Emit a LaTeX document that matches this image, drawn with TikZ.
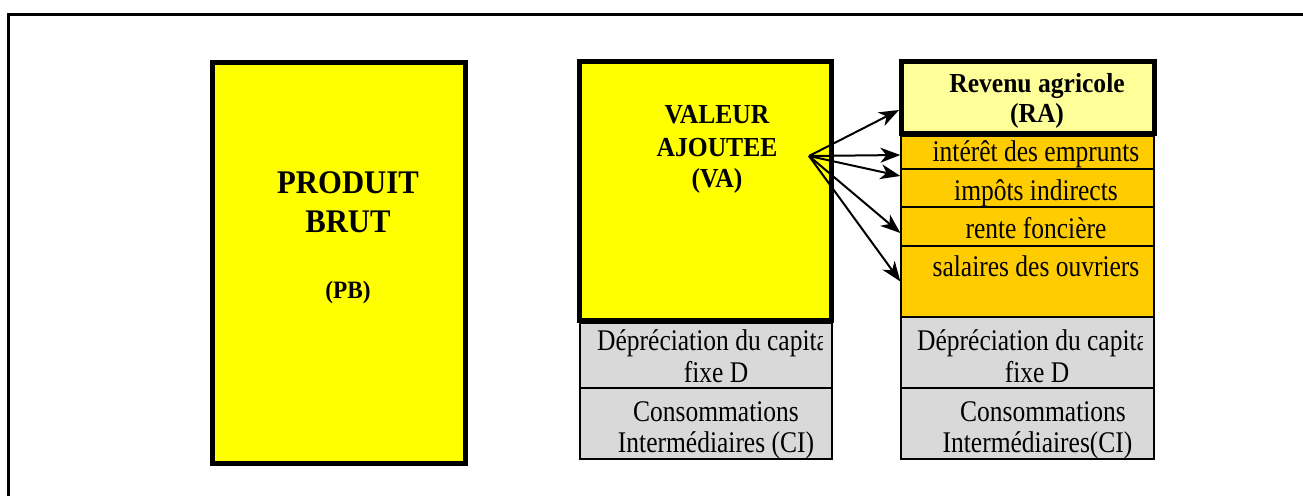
\documentclass[tikz,border=0pt]{standalone}
\usepackage{fontspec}
\setmainfont{Liberation Serif}[FakeStretch=0.85,BoldFeatures={FakeStretch=0.93}]
\usetikzlibrary{arrows.meta}
\definecolor{yel}{HTML}{FFFF00}
\definecolor{lyel}{HTML}{FFFF99}
\definecolor{orng}{HTML}{FFCC00}
\definecolor{gry}{HTML}{D9D9D9}
\begin{document}
\begin{tikzpicture}[x=1pt,y=-1pt,
  thickbox/.style={draw=black,line width=5pt,inner sep=0pt,rectangle},
  thinbox/.style={draw=black,line width=1.3pt,inner sep=0pt,rectangle},
  txt/.style={anchor=base,inner sep=0pt,font=\fontsize{30}{31}\selectfont},
  txtw/.style={anchor=base west,inner sep=0pt,font=\fontsize{30}{31}\selectfont},
  bigb/.style={anchor=base,inner sep=0pt,font=\fontsize{33}{36}\selectfont\bfseries},
  midb/.style={anchor=base,inner sep=0pt,font=\fontsize{27.5}{30}\selectfont\bfseries},
  smlb/.style={anchor=base,inner sep=0pt,font=\fontsize{25}{28}\selectfont\bfseries},
  arr/.style={line width=2pt,-{Stealth[length=20pt,width=15pt,inset=6pt]}}
]
\useasboundingbox (0,0) rectangle (1303,496);
% outer frame
\draw[line width=2.5pt] (1303,14.3) -- (8.3,14.3) -- (8.3,496);

% left column: produit brut
\node[thickbox,fill=yel,minimum width=252.5pt,minimum height=401pt] (pb) at (338.75,262.5) {};
\node[bigb] (pb1) at (348,193) {PRODUIT};
\node[bigb] (pb2) at (348,232) {BRUT};
\node[smlb] (pb3) at (348,298) {(PB)};

% middle column
\node[thinbox,fill=gry,minimum width=252pt,minimum height=65pt] (dep1) at (706,355.5) {};
\node[thinbox,fill=gry,minimum width=252pt,minimum height=71pt] (ci1) at (706,423.5) {};
\node[thickbox,fill=yel,minimum width=252pt,minimum height=259pt] (va) at (705.5,191) {};
\node[midb] (va1) at (717,123) {VALEUR};
\node[midb] (va2) at (717,156) {AJOUTEE};
\node[midb] (va3) at (717,187) {(VA)};
\begin{scope}
\clip (dep1.south west) rectangle ([xshift=-10pt]dep1.north east);
\node[txtw] (dep1t) at (597,350) {Dépréciation du capital};
\end{scope}
\node[txt] (dep1b) at (716,382) {fixe D};
\node[txt] (ci1a) at (716,421) {Consommations};
\node[txt] (ci1b) at (716,452) {Intermédiaires (CI)};

% right column
\node[thinbox,fill=orng,minimum width=253pt,minimum height=33pt] (int) at (1027.5,152.5) {};
\node[thinbox,fill=orng,minimum width=253pt,minimum height=38pt] (imp) at (1027.5,188) {};
\node[thinbox,fill=orng,minimum width=253pt,minimum height=39pt] (ren) at (1027.5,226.5) {};
\node[thinbox,fill=orng,minimum width=253pt,minimum height=71pt] (sal) at (1027.5,281.5) {};
\node[thinbox,fill=gry,minimum width=253pt,minimum height=71pt] (dep2) at (1027.5,352.5) {};
\node[thinbox,fill=gry,minimum width=253pt,minimum height=71pt] (ci2) at (1027.5,423.5) {};
\node[thickbox,fill=lyel,minimum width=253pt,minimum height=72pt] (ra) at (1028,97.5) {};
\node[midb] (ra1) at (1037,92) {Revenu agricole};
\node[midb] (ra2) at (1037,122) {(RA)};
\node[txt] (intt) at (1036,161.7) {intérêt des emprunts};
\node[txt] (impt) at (1036,200) {impôts indirects};
\node[txt] (rent) at (1036,238) {rente foncière};
\node[txt] (salt) at (1036,276) {salaires des ouvriers};
\begin{scope}
\clip (dep2.south west) rectangle ([xshift=-12pt]dep2.north east);
\node[txtw] (dep2t) at (917,350) {Dépréciation du capital};
\end{scope}
\node[txt] (dep2b) at (1037,382) {fixe D};
\node[txt] (ci2a) at (1043,421) {Consommations};
\node[txt] (ci2b) at (1037.5,452) {Intermédiaires(CI)};

% arrows
\coordinate (src) at (809,156);
\draw[arr] (src) -- ([yshift=-12.5pt]ra.west);
\draw[arr] (src) -- ([yshift=-2.5pt]int.west);
\draw[arr] (src) -- ([yshift=12pt]imp.west);
\draw[arr] (src) -- ([yshift=-6.5pt]ren.west);
\draw[arr] (src) -- (sal.west);
\end{tikzpicture}
\end{document}
